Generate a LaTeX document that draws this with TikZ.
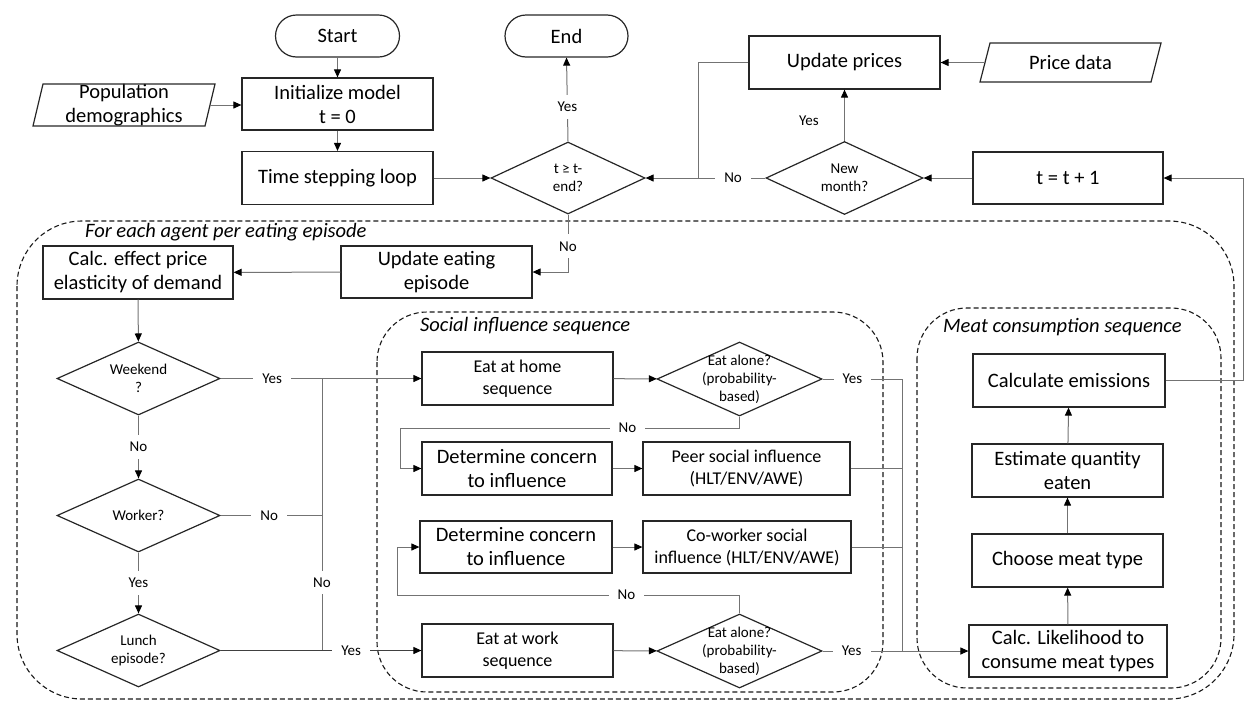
\documentclass[tikz,border=0pt]{standalone}
\usepackage{fontspec}
\setmainfont{Carlito}
\usetikzlibrary{arrows.meta,shapes.geometric,calc}
\begin{document}
\begin{tikzpicture}[x=1pt,y=-1pt,
  big/.style={font=\fontsize{20.5}{24}\selectfont},
  mid/.style={font=\fontsize{18}{22}\selectfont},
  small/.style={font=\fontsize{15}{18}\selectfont},
  proc/.style={draw=black!85, line width=1.2pt, rectangle, align=center, inner sep=0pt,
    minimum width=191pt, minimum height=53pt, big},
  term/.style={draw=black!85, line width=1.2pt, rectangle, rounded corners=21pt,
    minimum width=124pt, minimum height=42pt, big},
  iotext/.style={align=center, inner sep=0pt, big},
  ioshape/.style={draw=black!85, line width=1.2pt},
  dec/.style={draw=black!85, line width=1.2pt, diamond, inner sep=0pt},
  dtext/.style={small, align=center, inner sep=0pt},
  conn/.style={draw=black!55, line width=1pt, -{Triangle[length=8pt,width=7pt,color=black]}},
  plain/.style={draw=black!55, line width=1pt},
  lbl/.style={small, fill=white, inner xsep=9pt, inner ysep=7pt},
  region/.style={draw=black!90, line width=1.1pt, dash pattern=on 5pt off 3pt, rounded corners=#1},
  rtitle/.style={font=\fontsize{20.5}{24}\selectfont\itshape, anchor=west, inner sep=0pt},
]
\useasboundingbox (0,0) rectangle (1246,702);

% ---------- grouping regions ----------
\draw[region=65] (17,221) rectangle (1234,699);
\node[rtitle] (ttlagent) at (85,232) {For each agent per eating episode};
\draw[region=50] (377,312) rectangle (883,692);
\node[rtitle] (ttlsocial) at (420,326) {Social influence sequence};
\draw[region=50] (917,308) rectangle (1221,688);
\node[rtitle] (ttlmeat) at (943,327) {Meat consumption sequence};

% ---------- main loop ----------
\node[term] (start) at (337.5,36) {Start};
\node[term, minimum width=123pt] (end) at (566.5,36) {End};
\node[proc, minimum height=52pt] (init) at (337.5,104) {Initialize model\\t = 0};
\node[proc, minimum height=53pt] (loop) at (337.5,178) {Time stepping loop};

\node[iotext, minimum width=172pt, minimum height=42pt] (pop) at (124,105) {Population\\demographics};
\draw[ioshape] ($(pop)+(-91,21)$) -- ($(pop)+(-81,-21)$) -- ($(pop)+(91,-21)$) -- ($(pop)+(81,21)$) -- cycle;

\node[dec, minimum width=154pt, minimum height=72pt,
  label={[dtext]center:{t ≥ t-\\end?}}] (tend) at (568,178) {};

\node[proc, minimum width=191pt, minimum height=53pt] (upd) at (844.5,62.5) {Update prices};
\node[iotext, minimum width=171pt, minimum height=39pt] (price) at (1070.5,62.5) {Price data};
\draw[ioshape] ($(price)+(-90.5,19.5)$) -- ($(price)+(-80.5,-19.5)$) -- ($(price)+(90.5,-19.5)$) -- ($(price)+(80.5,19.5)$) -- cycle;

\node[dec, minimum width=157pt, minimum height=73pt,
  label={[dtext]center:{New\\month?}}] (month) at (844.5,178) {};
\node[proc, minimum width=190pt, minimum height=52pt] (tinc) at (1068,178) {t = t + 1};

% ---------- per agent ----------
\node[proc, minimum width=190pt, minimum height=53pt] (elast) at (138,272.5) {Calc. effect price\\elasticity of demand};
\node[proc, minimum width=191pt, minimum height=52pt] (ueat) at (436.5,272) {Update eating\\episode};

\node[dec, minimum width=163pt, minimum height=73pt,
  label={[dtext]center:{Weekend\\?}}] (wkend) at (138.5,378.5) {};
\node[dec, minimum width=163pt, minimum height=73pt,
  label={[dtext]center:{Worker?}}] (worker) at (138.5,515.5) {};
\node[dec, minimum width=163pt, minimum height=73pt,
  label={[dtext]center:{Lunch\\episode?}}] (lunch) at (138.5,650.5) {};

% ---------- social influence ----------
\node[proc, mid, minimum width=191pt, minimum height=53pt] (home) at (517.5,378.5) {Eat at home\\sequence};
\node[dec, minimum width=165pt, minimum height=74pt,
  label={[dtext]center:{Eat alone?\\(probability-\\based)}}] (alone1) at (739.5,379) {};
\node[proc, minimum width=190pt, minimum height=53pt] (conc1) at (517,468.5) {Determine concern\\to influence};
\node[proc, mid, minimum width=207pt, minimum height=53pt] (peer) at (746.5,468.5) {Peer social influence\\(HLT/ENV/AWE)};
\node[proc, minimum width=192pt, minimum height=52pt] (conc2) at (516,547) {Determine concern\\to influence};
\node[proc, mid, minimum width=208pt, minimum height=52pt] (cowork) at (747,547) {Co-worker social\\influence (HLT/ENV/AWE)};
\node[proc, mid, minimum width=191pt, minimum height=53pt] (work) at (517.5,650.5) {Eat at work\\sequence};
\node[dec, minimum width=165pt, minimum height=74pt,
  label={[dtext]center:{Eat alone?\\(probability-\\based)}}] (alone2) at (739.5,651) {};

% ---------- meat consumption ----------
\node[proc, minimum width=192pt, minimum height=53pt] (emis) at (1069,380.5) {Calculate emissions};
\node[proc, minimum width=191pt, minimum height=53pt] (qty) at (1067.5,470.5) {Estimate quantity\\eaten};
\node[proc, minimum width=191pt, minimum height=53pt] (choose) at (1067.5,560.5) {Choose meat type};
\node[proc, minimum width=198pt, minimum height=52pt] (lik) at (1068,651) {Calc. Likelihood to\\consume meat types};

% ---------- junction points ----------
\coordinate (mj) at (698,178);
\coordinate (jx) at (322,378.5);
\coordinate (n1a) at (739.5,428);
\coordinate (n1b) at (400,428);
\coordinate (n2a) at (739.5,595);
\coordinate (n2b) at (397,595);
\coordinate (rj) at (902,379);
\coordinate (er) at (1243,380.5);

% ---------- connectors: main loop ----------
\draw[conn] (start) -- (init);
\draw[conn] (init) -- (loop);
\draw[conn] (pop.east) -- (pop.east -| init.west);
\draw[conn] (loop) -- (tend);
\draw[conn] (tend.north) -- node[lbl, pos=0.41] (yesend) {Yes} (end.south);
\draw[conn] (tinc) -- (month);
\draw[conn] (month.north) -- (upd.south);
\node[small] (yesmonth) at (809,121) {Yes};
\draw[conn] (price.west) -- (upd.east);
\draw[conn] (month.west) -- node[lbl, pos=0.27] (nomonth) {No} (tend.east);
\draw[plain] (upd.west) -| (mj);
\draw[conn] (tend.south) |- node[lbl, pos=0.276] (noend) {No} (ueat.east);

% ---------- connectors: per agent ----------
\draw[conn] (ueat) -- (elast);
\draw[conn] (elast) -- (wkend);
\draw[conn] (wkend.south) -- node[lbl] (nowk) {No} (worker.north);
\draw[conn] (worker.south) -- node[lbl] (yesworker) {Yes} (lunch.north);
\draw[conn] (wkend.east) -- node[lbl, pos=0.257] (yeswk) {Yes} (home.west);
\draw[plain] (worker.east) -- node[lbl, pos=0.48] (noworker) {No} (worker.east -| jx);
\draw[plain] (lunch.east -| jx) -- node[lbl, pos=0.25] (nolunch) {No} (jx);
\draw[conn, draw=black!75] (lunch.east) -- node[lbl, pos=0.65] (yeslunch) {Yes} (work.west);

% ---------- connectors: social influence ----------
\draw[conn] (home) -- (alone1);
\draw[conn] (alone1.south) -- (n1a) -- node[lbl, pos=0.33] (noalone1) {No} (n1b) |- (conc1.west);
\draw[conn] (conc1) -- (peer);
\draw[conn] (conc2) -- (cowork);
\draw[conn] (work) -- (alone2);
\draw[conn] (alone2.north) -- (n2a) -- node[lbl, pos=0.33] (noalone2) {No} (n2b) |- (conc2.west);
\draw[plain] (alone1.east) -- node[lbl, pos=0.375] (yesalone1) {Yes} (rj) -- (rj |- lik.west);
\draw[plain] (peer.east) -- (peer.east -| rj);
\draw[plain] (cowork.east) -- (cowork.east -| rj);
\draw[conn] (alone2.east) -- node[lbl, pos=0.2] (yesalone2) {Yes} (lik.west);

% ---------- connectors: meat consumption ----------
\draw[conn] (lik) -- (choose);
\draw[conn] (choose) -- (qty);
\draw[conn] (qty) -- (emis);
\draw[conn] (emis.east) -- (er) |- (tinc.east);
\end{tikzpicture}
\end{document}
